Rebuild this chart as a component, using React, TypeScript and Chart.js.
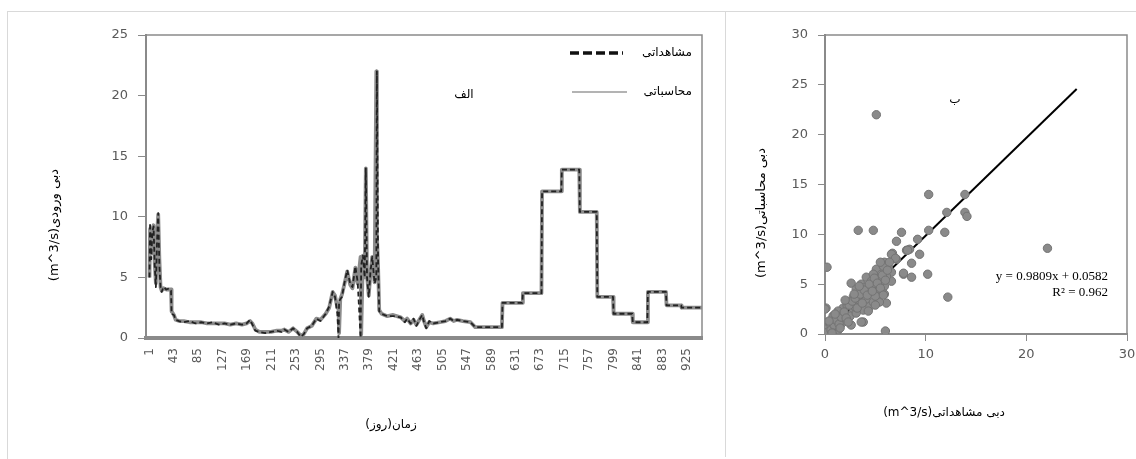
import React, { useEffect, useRef } from "react";
import { Chart, registerables } from "chart.js";

Chart.register(...registerables);

const FONT = '"DejaVu Sans", "Noto Sans", sans-serif';
const SERIF = '"Liberation Serif", "DejaVu Serif", serif';

// ---------- left chart (time series) ----------
const tickDays = [1, 43, 85, 127, 169, 211, 253, 295, 337, 379, 421, 463, 505, 547, 589, 631, 673, 715, 757, 799, 841, 883, 925];

const days = [
  1, 2, 4, 6, 8, 10, 12, 14, 16, 18, 20, 22, 25, 30, 35, 38, 39, 43, 46, 52,
  60, 70, 80, 90, 100, 110, 120, 130, 140, 150, 160, 168, 174, 178, 183, 190, 200, 210, 220, 228,
  233, 240, 248, 255, 261, 266, 272, 280, 288, 295, 304, 310, 316, 320, 324, 326, 327, 329, 332, 336,
  341, 346, 350, 355, 359, 364, 365, 368, 371, 373, 375, 378, 381, 384, 388, 391, 392, 394, 396, 400,
  410, 420, 433, 440, 444, 450, 455, 460, 465, 470, 473, 477, 482, 489, 500, 510, 518, 524, 530, 540,
  553, 561, 607, 608, 642, 643, 675, 676, 709, 710, 740, 741, 770, 771, 798, 799, 831, 832, 857, 858,
  889, 890, 915, 916, 951,
];

const observed = [
  5.0, 9.5, 6.5, 8.8, 9.2, 6.0, 4.2, 8.0, 10.3, 6.0, 4.2, 3.8, 4.2, 4.0, 4.1, 3.9, 2.0, 1.9, 1.5, 1.4,
  1.3, 1.4, 1.2, 1.3, 1.2, 1.3, 1.1, 1.2, 1.1, 1.2, 1.1, 1.2, 1.5, 1.1, 0.6, 0.5, 0.4, 0.5, 0.6, 0.5,
  0.7, 0.5, 0.8, 0.5, 0.1, 0.3, 0.8, 1.0, 1.6, 1.4, 2.0, 2.6, 3.8, 3.4, 2.0, 0.0, 3.0, 3.2, 3.4, 4.5,
  5.6, 4.5, 4.2, 5.9, 4.6, 0.0, 6.0, 6.8, 5.0, 14.0, 5.0, 3.4, 5.5, 6.7, 4.5, 5.0, 22.0, 6.5, 2.2, 2.0,
  1.8, 1.8, 1.7, 1.3, 1.6, 1.2, 1.6, 1.0, 1.5, 1.9, 1.3, 0.8, 1.4, 1.2, 1.3, 1.4, 1.6, 1.4, 1.5, 1.4,
  1.3, 0.9, 0.9, 2.9, 2.9, 3.7, 3.7, 12.1, 12.1, 13.9, 13.9, 10.4, 10.4, 3.4, 3.4, 2.0, 2.0, 1.3, 1.3, 3.8,
  3.8, 2.7, 2.7, 2.5, 2.5,
];

const computed = [
  5.0, 9.0, 7.0, 9.0, 9.3, 6.2, 4.5, 8.5, 10.2, 6.5, 4.2, 3.9, 4.1, 4.0, 4.0, 4.0, 2.2, 1.9, 1.5, 1.4,
  1.4, 1.3, 1.3, 1.3, 1.2, 1.2, 1.2, 1.2, 1.1, 1.2, 1.1, 1.2, 1.4, 1.2, 0.7, 0.5, 0.5, 0.5, 0.6, 0.6,
  0.7, 0.5, 0.8, 0.5, 0.2, 0.3, 0.8, 1.0, 1.6, 1.5, 2.0, 2.5, 3.8, 3.5, 2.5, 2.6, 0.4, 3.2, 3.6, 4.4,
  5.5, 4.4, 4.1, 5.8, 4.5, 6.7, 0.3, 6.8, 5.0, 14.0, 5.2, 3.5, 5.4, 6.7, 4.6, 22.0, 8.6, 6.0, 2.3, 2.0,
  1.8, 1.9, 1.7, 1.4, 1.6, 1.2, 1.5, 1.1, 1.5, 1.9, 1.4, 0.9, 1.3, 1.2, 1.3, 1.4, 1.6, 1.4, 1.5, 1.4,
  1.3, 0.9, 0.9, 2.9, 2.9, 3.7, 3.7, 12.1, 12.1, 13.9, 13.9, 10.4, 10.4, 3.4, 3.4, 2.0, 2.0, 1.3, 1.3, 3.8,
  3.8, 2.7, 2.7, 2.5, 2.5,
];

const observedLabel = "مشاهداتی";
const computedLabel = "محاسباتی";
const leftYTitle = "دبی ورودی(m^3/s)";
const leftXTitle = "زمان(روز)";
const leftTag = "الف";

// ---------- right chart (scatter) ----------
const scatterObs = [
  3.3, 4.8, 7.6, 7.1, 9.2, 10.3, 11.9, 6.7, 8.1, 8.4, 9.4, 7.1, 8.6, 7.8, 8.6, 10.2, 12.2, 22.1, 0.2, 0.1,
  6.0, 3.8, 2.6, 2.6, 5.1, 10.3, 13.9, 12.1, 13.9, 14.1, 8.2, 6.6, 7.0, 5.9, 6.3, 5.1, 5.6, 6.6, 7.8, 4.1,
  4.6, 3.6, 6.6, 5.9, 5.3, 4.5, 3.8, 3.3, 2.8, 4.1, 5.3, 5.9, 6.1, 3.3, 2.3, 1.8, 2.8, 3.8, 1.5, 2.5,
  1.0, 2.0, 3.6, 0.0, 0.5, 0.2, 0.8, 1.3, 0.0, 1.3, 0.8, 3.1, 4.5, 4.8, 5.4, 5.0, 4.0, 3.1, 4.8, 5.6,
  6.1, 4.8, 5.8, 6.4, 5.5, 1.2, 2.2, 3.0, 0.6, 1.7, 0.3, 0.6, 0.9, 1.1, 1.4, 1.6, 1.9, 2.1, 2.4, 2.7,
  3.0, 3.2, 3.5, 3.7, 3.9, 4.2, 4.4, 4.7, 4.9, 5.2, 5.5, 5.7, 6.0, 6.2, 0.4, 1.0, 2.0, 2.9, 3.4, 4.3,
  5.0, 5.8, 1.5, 2.3, 0.7,
];

const scatterCalc = [
  10.4, 10.4, 10.2, 9.3, 9.5, 10.4, 10.2, 8.1, 8.4, 8.5, 8.0, 7.5, 7.1, 6.0, 5.7, 6.0, 3.7, 8.6, 6.7, 2.6,
  0.3, 1.2, 0.9, 5.1, 22.0, 14.0, 14.0, 12.2, 12.2, 11.8, 8.4, 8.0, 7.6, 7.2, 6.7, 6.5, 6.0, 6.2, 6.1, 5.7,
  5.3, 5.0, 5.3, 4.8, 4.5, 4.2, 4.2, 3.8, 3.7, 3.5, 3.7, 4.0, 3.1, 3.0, 3.2, 2.6, 2.5, 2.4, 2.0, 1.8,
  1.5, 1.3, 1.2, 0.3, 1.0, 0.5, 0.7, 0.4, 2.5, 2.3, 1.8, 2.1, 2.8, 3.2, 3.2, 3.8, 4.7, 4.5, 5.0, 5.3,
  5.8, 6.0, 6.8, 7.2, 7.2, 1.6, 2.9, 2.7, 0.9, 1.1, 0.2, 0.4, 0.9, 1.4, 1.0, 1.7, 2.2, 1.6, 2.9, 3.3,
  3.6, 2.6, 4.0, 3.1, 4.4, 3.9, 5.0, 4.3, 5.6, 5.1, 4.6, 5.9, 5.4, 6.4, 1.3, 2.0, 3.4, 4.0, 4.8, 2.3,
  2.9, 3.9, 0.6, 1.2, 0.1,
];

const trendSlope = 0.9809;
const trendIntercept = 0.0582;
const trendXs = [0, 25];
const equationText = "y = 0.9809x + 0.0582";
const r2Text = "R² = 0.962";
const rightYTitle = "دبی محاسباتی(m^3/s)";
const rightXTitle = "دبی مشاهداتی(m^3/s)";
const rightTag = "ب";

const AXIS_GRAY = "#8a8a8a";
const TICK_COLOR = "#595959";

function drawRotatedRtl(ctx: CanvasRenderingContext2D, text: string, x: number, y: number) {
  ctx.save();
  ctx.translate(x, y);
  ctx.rotate(-Math.PI / 2);
  ctx.direction = "rtl";
  ctx.textAlign = "center";
  ctx.textBaseline = "middle";
  ctx.fillText(text, 0, 0);
  ctx.restore();
}

const leftDecor = {
  id: "leftDecor",
  afterDraw(chart: any) {
    const { ctx, chartArea: a } = chart;
    ctx.save();
    ctx.strokeStyle = AXIS_GRAY;
    ctx.lineWidth = 1.5;
    ctx.beginPath();
    ctx.moveTo(a.left, a.top);
    ctx.lineTo(a.right, a.top);
    ctx.lineTo(a.right, a.bottom);
    ctx.stroke();

    // legend inside plot area
    const ds = chart.data.datasets;
    const textRight = a.right - 10;
    const sx0 = a.right - 132;
    const sx1 = a.right - 79;
    const r1 = a.top + 18;
    const r2 = a.top + 57;
    ctx.setLineDash([9, 4]);
    ctx.strokeStyle = "#111";
    ctx.lineWidth = 3.5;
    ctx.beginPath();
    ctx.moveTo(sx0, r1);
    ctx.lineTo(sx1, r1);
    ctx.stroke();
    ctx.setLineDash([]);
    ctx.strokeStyle = "#9a9a9a";
    ctx.lineWidth = 1.5;
    ctx.beginPath();
    ctx.moveTo(sx0 + 2, r2);
    ctx.lineTo(sx1 + 4, r2);
    ctx.stroke();

    ctx.fillStyle = "#000";
    ctx.font = `12px ${FONT}`;
    ctx.textBaseline = "middle";
    ctx.textAlign = "right";
    ctx.direction = "rtl";
    ctx.fillText(ds[0].label, textRight, r1);
    ctx.fillText(ds[1].label, textRight, r2);

    ctx.textAlign = "center";
    ctx.fillText(leftTag, 457, 84);

    ctx.font = `13px ${FONT}`;
    drawRotatedRtl(ctx, leftYTitle, 48, 214);
    ctx.font = `12px ${FONT}`;
    ctx.direction = "rtl";
    ctx.textAlign = "center";
    ctx.textBaseline = "middle";
    ctx.fillText(leftXTitle, 384, 414);
    ctx.restore();
  },
};

const rightDecor = {
  id: "rightDecor",
  afterDraw(chart: any) {
    const { ctx, chartArea: a } = chart;
    ctx.save();
    ctx.strokeStyle = AXIS_GRAY;
    ctx.lineWidth = 1.5;
    ctx.beginPath();
    ctx.moveTo(a.left, a.top);
    ctx.lineTo(a.right, a.top);
    ctx.lineTo(a.right, a.bottom);
    ctx.stroke();

    ctx.fillStyle = "#000";
    ctx.font = `13px ${SERIF}`;
    ctx.textAlign = "right";
    ctx.textBaseline = "middle";
    ctx.fillText(equationText, a.right - 19, 266);
    ctx.fillText(r2Text, a.right - 19, 282);

    ctx.font = `12px ${FONT}`;
    ctx.direction = "rtl";
    ctx.textAlign = "center";
    ctx.fillText(rightTag, 230, 89);

    ctx.font = `13px ${FONT}`;
    drawRotatedRtl(ctx, rightYTitle, 37, 202);
    ctx.font = `12px ${FONT}`;
    ctx.direction = "rtl";
    ctx.textAlign = "center";
    ctx.textBaseline = "middle";
    ctx.fillText(rightXTitle, 219, 402);
    ctx.restore();
  },
};

function LeftChart() {
  const ref = useRef<HTMLCanvasElement>(null);
  useEffect(() => {
    const chart = new Chart(ref.current!, {
      type: "line",
      data: {
        datasets: [
          {
            label: observedLabel,
            data: days.map((d, i) => ({ x: d, y: observed[i] })),
            borderColor: "#222",
            borderWidth: 1.8,
            borderDash: [5, 3],
            borderJoinStyle: "round",
            pointRadius: 0,
            tension: 0,
            order: 1,
          },
          {
            label: computedLabel,
            data: days.map((d, i) => ({ x: d, y: computed[i] })),
            borderColor: "#8c8c8c",
            borderWidth: 3.8,
            borderJoinStyle: "round",
            pointRadius: 0,
            tension: 0,
            order: 2,
          },
        ],
      },
      options: {
        responsive: false,
        animation: false,
        layout: { padding: { top: 24, right: 23, left: 0, bottom: 0 } },
        plugins: { legend: { display: false }, tooltip: { enabled: false } },
        scales: {
          x: {
            type: "linear",
            min: -5,
            max: 951,
            afterBuildTicks: (s: any) => {
              s.ticks = tickDays.map((v) => ({ value: v }));
            },
            afterFit: (s: any) => {
              s.height = 117;
              s.paddingLeft = 0;
              s.paddingRight = 0;
            },
            ticks: {
              autoSkip: false,
              minRotation: 90,
              maxRotation: 90,
              padding: 10,
              color: TICK_COLOR,
              font: { family: FONT, size: 12 },
            },
            grid: { drawOnChartArea: false, drawTicks: false },
            border: { color: AXIS_GRAY, width: 4 },
          },
          y: {
            min: 0,
            max: 25,
            afterFit: (s: any) => {
              s.width = 139;
            },
            ticks: {
              stepSize: 5,
              padding: 10,
              color: TICK_COLOR,
              font: { family: FONT, size: 13 },
            },
            grid: { drawOnChartArea: false, tickLength: 8, color: AXIS_GRAY, lineWidth: 1 },
            border: { color: AXIS_GRAY, width: 2 },
          },
        },
      },
      plugins: [leftDecor],
    } as any);
    return () => chart.destroy();
  }, []);
  return <canvas ref={ref} width={718} height={444} style={{ display: "block" }} />;
}

function RightChart() {
  const ref = useRef<HTMLCanvasElement>(null);
  useEffect(() => {
    const chart = new Chart(ref.current!, {
      type: "scatter",
      data: {
        datasets: [
          {
            type: "scatter",
            label: "points",
            data: scatterObs.map((x, i) => ({ x, y: scatterCalc[i] })),
            backgroundColor: "#8a8a8a",
            borderColor: "#737373",
            borderWidth: 1,
            pointRadius: 4.2,
            order: 1,
          },
          {
            type: "line",
            label: "trend",
            data: trendXs.map((x) => ({ x, y: trendSlope * x + trendIntercept })),
            borderColor: "#000",
            borderWidth: 2,
            pointRadius: 0,
            showLine: true,
            order: 2,
          },
        ],
      },
      options: {
        responsive: false,
        animation: false,
        layout: { padding: { top: 24, right: 9, left: 0, bottom: 0 } },
        plugins: { legend: { display: false }, tooltip: { enabled: false } },
        scales: {
          x: {
            type: "linear",
            min: 0,
            max: 30,
            afterFit: (s: any) => {
              s.height = 121;
              s.paddingLeft = 0;
              s.paddingRight = 0;
            },
            ticks: {
              stepSize: 10,
              padding: 6,
              maxRotation: 0,
              color: TICK_COLOR,
              font: { family: FONT, size: 13 },
            },
            grid: { drawOnChartArea: false, tickLength: 7, color: AXIS_GRAY },
            border: { color: AXIS_GRAY, width: 2 },
          },
          y: {
            min: 0,
            max: 30,
            afterFit: (s: any) => {
              s.width = 100;
            },
            ticks: {
              stepSize: 5,
              padding: 10,
              color: TICK_COLOR,
              font: { family: FONT, size: 13 },
            },
            grid: { drawOnChartArea: false, tickLength: 7, color: AXIS_GRAY },
            border: { color: AXIS_GRAY, width: 2 },
          },
        },
      },
      plugins: [rightDecor],
    } as any);
    return () => chart.destroy();
  }, []);
  return <canvas ref={ref} width={411} height={444} style={{ display: "block" }} />;
}

export default function App() {
  return (
    <div style={{ position: "absolute", left: 0, top: 0, width: 1136, height: 459, background: "#fff", overflow: "hidden" }}>
      <div style={{ position: "absolute", left: 7, top: 11, width: 718, height: 448, borderLeft: "1px solid #d9d9d9", borderTop: "1px solid #d9d9d9", boxSizing: "border-box" }} />
      <div style={{ position: "absolute", left: 725, top: 11, width: 411, height: 446, borderLeft: "1px solid #d9d9d9", borderTop: "1px solid #d9d9d9", boxSizing: "border-box" }} />
      <div style={{ position: "absolute", left: 7, top: 11 }}>
        <LeftChart />
      </div>
      <div style={{ position: "absolute", left: 725, top: 11 }}>
        <RightChart />
      </div>
    </div>
  );
}
